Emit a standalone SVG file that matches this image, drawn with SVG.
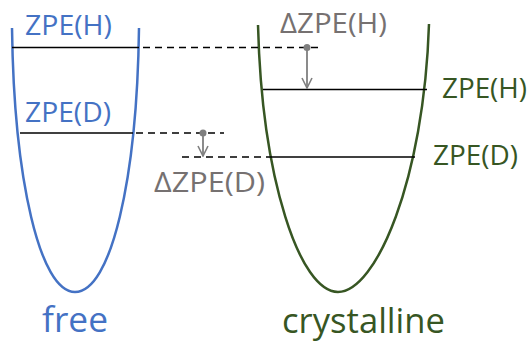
<svg xmlns="http://www.w3.org/2000/svg" width="531" height="342" viewBox="0 0 531 342">
<style>
.t{font-family:"Open Sans","Liberation Sans",sans-serif;}
.blue{fill:#4472C4}
.green{fill:#375623}
.gray{fill:#767171}
.lvl{stroke:#000;stroke-width:1.6;fill:none}
.dash{stroke:#000;stroke-width:1.5;stroke-dasharray:7 5;fill:none}
.arr{stroke:#7F7F7F;stroke-width:1.8;fill:none}
</style>
<defs>
<marker id="head" viewBox="0 0 12 12" refX="11" refY="6" markerWidth="12" markerHeight="12" markerUnits="userSpaceOnUse" orient="auto">
<path d="M1,1 L11,6 L1,11" fill="none" stroke="#7F7F7F" stroke-width="1.6"/>
</marker>
</defs>
<rect width="531" height="342" fill="#fff"/>
<g id="free-well">
<path d="M12,28 C14,180 40,292 75,292 C111,292 137,180 139,28" fill="none" stroke="#4472C4" stroke-width="2.5"/>
<line class="lvl" x1="12" y1="47.5" x2="139" y2="47.5"/>
<line class="lvl" x1="20" y1="133" x2="133" y2="133"/>
<text class="t blue" x="25" y="35" font-size="27" textLength="87" lengthAdjust="spacingAndGlyphs">ZPE(H)</text>
<text class="t blue" x="25" y="122" font-size="27" textLength="86" lengthAdjust="spacingAndGlyphs">ZPE(D)</text>
<text class="t blue" x="42" y="332" font-size="35" textLength="66" lengthAdjust="spacingAndGlyphs">free</text>
</g>
<g id="crystalline-well">
<path d="M258,25 C262,180 300,292 338,292 C376,292 424,180 429,24" fill="none" stroke="#375623" stroke-width="2.5"/>
<line class="lvl" x1="263" y1="89.5" x2="427" y2="89.5"/>
<line class="lvl" x1="272" y1="157" x2="415" y2="157"/>
<text class="t green" x="442" y="98" font-size="27" textLength="85" lengthAdjust="spacingAndGlyphs">ZPE(H)</text>
<text class="t green" x="433" y="165" font-size="27" textLength="85" lengthAdjust="spacingAndGlyphs">ZPE(D)</text>
<text class="t green" x="282" y="333" font-size="34" textLength="163" lengthAdjust="spacingAndGlyphs">crystalline</text>
</g>
<g id="connectors">
<line class="dash" x1="143" y1="47.5" x2="323" y2="47.5"/>
<line class="dash" x1="136" y1="133" x2="224" y2="133"/>
<line class="dash" x1="182" y1="157" x2="272" y2="157"/>
<circle cx="307" cy="47.5" r="3.5" fill="#7F7F7F"/>
<line class="arr" x1="307" y1="48" x2="307" y2="88" marker-end="url(#head)"/>
<circle cx="203" cy="133" r="3.5" fill="#7F7F7F"/>
<line class="arr" x1="203" y1="134" x2="203" y2="156" marker-end="url(#head)"/>
</g>
<g id="delta-labels">
<text class="t gray" x="280" y="33" font-size="28" textLength="107" lengthAdjust="spacingAndGlyphs">ΔZPE(H)</text>
<text class="t gray" x="154" y="191.5" font-size="28" textLength="111" lengthAdjust="spacingAndGlyphs">ΔZPE(D)</text>
</g>
</svg>
